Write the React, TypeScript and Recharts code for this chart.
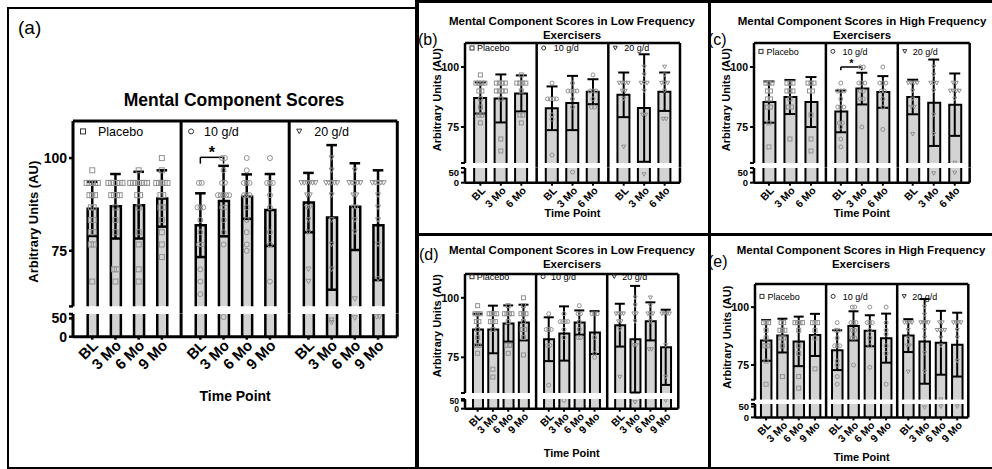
import React from 'react';
import {
  ComposedChart,
  Bar,
  Scatter,
  ErrorBar,
  XAxis,
  YAxis,
  ReferenceLine,
  ReferenceDot,
} from 'recharts';

const FONT = '"Liberation Sans", Arial, Helvetica, sans-serif';

type Pair = [number, number]; // [score, how many participants share it]

const groupNames = ['Placebo', '10 g/d', '20 g/d'];
const groupSymbols = ['square', 'circle', 'triangle'];
const timePoints4 = ['BL', '3 Mo', '6 Mo', '9 Mo'];
const timePoints3 = ['BL', '3 Mo', '6 Mo'];

// (a) all participants
const aMeans = [
  [86.3, 87.0, 87.3, 89.1],
  [81.9, 88.4, 89.6, 86.0],
  [88.0, 84.0, 86.9, 81.9],
];
const aSD = [
  [7.3, 8.7, 9.0, 7.6],
  [8.6, 9.5, 6.0, 9.7],
  [8.0, 19.5, 11.7, 14.8],
];
const aPoints: Pair[][][] = [
  [
    [[96.7, 1], [93.3, 5], [90, 3], [86.7, 2], [83.3, 2], [80, 2], [76.7, 2], [66.7, 1]],
    [[93.3, 6], [90, 4], [86.7, 1], [83.3, 1], [80, 1], [70, 2], [66.7, 1]],
    [[96.7, 1], [93.3, 7], [90, 2], [86.7, 1], [80, 1], [76.7, 1], [70, 1], [66.7, 1]],
    [[100, 1], [96.7, 1], [93.3, 5], [90, 2], [86.7, 2], [83.3, 1], [80, 1], [76.7, 1], [73.3, 1]],
  ],
  [
    [[93.3, 2], [86.7, 3], [83.3, 1], [80, 1], [76.7, 2], [70, 1], [66.7, 1], [63.3, 1]],
    [[100, 2], [96.7, 1], [93.3, 2], [90, 5], [86.7, 2], [83.3, 1], [80, 1], [76.7, 1], [54, 1]],
    [[100, 1], [96.7, 1], [93.3, 3], [90, 3], [86.7, 1], [83.3, 1], [80, 1], [76.7, 1], [75, 1]],
    [[100, 1], [93.3, 3], [90, 1], [86.7, 1], [80, 1], [76.7, 1], [66.7, 1]],
  ],
  [
    [[93.3, 6], [90, 2], [86.7, 2], [83.3, 1], [80, 1], [70, 1], [66.7, 1]],
    [[100, 1], [96.7, 1], [93.3, 5], [90, 1], [83.3, 1], [76.7, 1], [70, 1], [45, 1], [38, 1]],
    [[96.7, 1], [93.3, 5], [90, 2], [86.7, 2], [83.3, 1], [80, 1], [62, 1], [51, 1]],
    [[93.3, 5], [90, 1], [86.7, 1], [83.3, 1], [76.7, 1], [67.4, 1], [54, 2]],
  ],
];

// (b) low frequency exercisers
const bMeans = [
  [87.1, 86.9, 89.0],
  [82.8, 85.0, 89.7],
  [88.4, 82.9, 89.7],
];
const bSD = [
  [6.5, 10.0, 7.5],
  [9.1, 11.3, 5.2],
  [9.3, 22.4, 8.0],
];
const bPoints: Pair[][][] = [
  [
    [[96.7, 1], [93.3, 4], [90, 2], [86.7, 1], [83.3, 1], [80, 2], [76.7, 1]],
    [[93.3, 4], [90, 4], [86.7, 1], [70, 1], [65, 1]],
    [[96.7, 1], [93.3, 4], [90, 1], [80, 2], [76.7, 1]],
  ],
  [
    [[93.3, 1], [86.7, 4], [80, 1], [78.3, 1], [63.3, 1]],
    [[93.3, 1], [90, 4], [86.7, 1], [83.3, 1], [52, 1]],
    [[96.7, 1], [90, 3], [86.7, 1], [83.3, 2]],
  ],
  [
    [[93.3, 4], [90, 2], [86.7, 1], [66.7, 1]],
    [[100, 1], [96.7, 1], [93.3, 3], [90, 1], [80, 2], [40, 1]],
    [[100, 1], [96.7, 1], [93.3, 3], [90, 1], [78.3, 2]],
  ],
];

// (c) high frequency exercisers
const cMeans = [
  [85.4, 87.5, 85.4],
  [81.5, 91.0, 89.6],
  [87.5, 85.1, 84.3],
];
const cSD = [
  [8.6, 7.1, 10.4],
  [8.7, 6.6, 6.6],
  [7.2, 18.0, 13.0],
];
const cPoints: Pair[][][] = [
  [
    [[93.3, 3], [90, 2], [86.7, 2], [83.3, 2], [76.7, 1], [66.7, 1]],
    [[93.3, 3], [90, 3], [86.7, 1], [83.3, 2], [70, 1]],
    [[93.3, 3], [90, 2], [80, 1], [70, 1], [65, 1]],
  ],
  [
    [[93.3, 1], [90, 3], [86.7, 1], [83.3, 3], [76.7, 2], [75, 1], [70, 1], [66.7, 1]],
    [[100, 2], [93.3, 3], [90, 2], [86.7, 2], [75, 1]],
    [[100, 1], [93.3, 3], [90, 2], [86.7, 1], [83.3, 1], [74, 1]],
  ],
  [
    [[93.3, 4], [90, 1], [86.7, 1], [83.3, 2], [72, 1]],
    [[100, 1], [96.7, 1], [93.3, 3], [90, 1], [80, 1], [72, 1], [45, 1]],
    [[93.3, 2], [90, 4], [86.7, 1], [60, 1], [48, 1]],
  ],
];

// (d) low frequency exercisers, 9 months
const dMeans = [
  [86.7, 86.7, 89.2, 89.6],
  [82.6, 85.0, 89.6, 85.4],
  [88.5, 82.6, 90.1, 79.2],
];
const dSD = [
  [6.6, 10.0, 7.6, 7.5],
  [9.2, 11.4, 5.1, 9.0],
  [9.0, 22.4, 8.0, 15.8],
];
const dPoints: Pair[][][] = [
  [
    [[96.7, 1], [93.3, 3], [90, 2], [86.7, 1], [83.3, 1], [80, 2], [76.7, 1]],
    [[93.3, 4], [90, 3], [86.7, 1], [70, 1], [66.7, 1]],
    [[96.7, 1], [93.3, 4], [90, 1], [80, 2], [76.7, 1]],
    [[100, 1], [96.7, 1], [93.3, 3], [90, 1], [86.7, 2], [83.3, 1], [76, 1]],
  ],
  [
    [[93.3, 1], [86.7, 3], [80, 2], [63.3, 1]],
    [[93.3, 1], [90, 4], [86.7, 1], [83.3, 1], [52, 1]],
    [[96.7, 1], [93.3, 2], [90, 1], [86.7, 1], [83.3, 2]],
    [[93.3, 3], [83.3, 1], [76.7, 1], [75, 1]],
  ],
  [
    [[93.3, 4], [90, 2], [86.7, 1], [66.7, 1]],
    [[100, 1], [96.7, 1], [93.3, 2], [90, 1], [80, 2], [40, 1]],
    [[100, 1], [96.7, 1], [93.3, 3], [90, 1], [78.3, 2]],
    [[93.3, 4], [80, 1], [66.7, 1], [50, 1]],
  ],
];

// (e) high frequency exercisers, 9 months
const eMeans = [
  [85.6, 87.7, 85.2, 88.0],
  [81.4, 91.9, 89.8, 86.6],
  [87.7, 85.2, 84.6, 83.8],
];
const eSD = [
  [8.8, 7.3, 10.7, 9.1],
  [8.6, 6.3, 6.7, 10.6],
  [7.1, 18.3, 13.8, 13.8],
];
const ePoints: Pair[][][] = [
  [
    [[93.3, 3], [90, 1], [86.7, 1], [83.3, 2], [76.7, 1], [66.7, 1]],
    [[93.3, 2], [90, 3], [86.7, 2], [83.3, 1], [70, 1]],
    [[93.3, 4], [90, 1], [83.3, 1], [80, 1], [70, 1], [65, 1]],
    [[93.3, 3], [90, 1], [86.7, 1], [73.3, 1]],
  ],
  [
    [[93.3, 1], [90, 2], [86.7, 1], [83.3, 3], [76.7, 1], [75, 1], [70, 1], [66.7, 1]],
    [[100, 2], [93.3, 3], [90, 2], [86.7, 2], [75, 1]],
    [[100, 1], [93.3, 3], [90, 1], [86.7, 1], [83.3, 1], [74, 1]],
    [[100, 1], [93.3, 1], [90, 1], [88.3, 1], [83.3, 1], [80, 1], [66.7, 1]],
  ],
  [
    [[93.3, 4], [90, 1], [86.7, 1], [83.3, 2], [72, 1]],
    [[100, 1], [96.7, 1], [93.3, 4], [90, 1], [86.7, 1], [80, 1], [72, 1], [45, 1]],
    [[93.3, 2], [90, 4], [86.7, 1], [83.3, 1], [60, 1], [50, 1]],
    [[93.3, 4], [90, 1], [86.7, 1], [76.7, 1], [50, 1]],
  ],
];

// significance brackets: group, from/to time index, bracket level, leg end
const aSig = [{ group: 1, from: 0, to: 1, y: 100.2, leg: 98.5 }];
const cSig = [{ group: 1, from: 0, to: 1, y: 100, leg: 98.6 }];

type Sig = { group: number; from: number; to: number; y: number; leg: number };

function Sym({ kind, cx, cy, s, stroke }: { kind: string; cx: number; cy: number; s: number; stroke: string }) {
  if (kind === 'square') {
    return <rect x={cx - s / 2} y={cy - s / 2} width={s} height={s} fill="none" stroke={stroke} strokeWidth={1} />;
  }
  if (kind === 'circle') {
    return <circle cx={cx} cy={cy} r={s / 2} fill="none" stroke={stroke} strokeWidth={1} />;
  }
  const h = s * 0.9;
  return (
    <path
      d={`M${cx - s / 2},${cy - h / 2}H${cx + s / 2}L${cx},${cy + h / 2}Z`}
      fill="none"
      stroke={stroke}
      strokeWidth={1}
    />
  );
}

interface PanelProps {
  means: number[][];
  sds: number[][];
  points: Pair[][][];
  labels: string[];
  axisX: number;
  right: number;
  top: number;
  upperBottom: number;
  lowerTop: number;
  base: number;
  lowerMax: number;
  G: number;
  barSize: number;
  sw: number;
  cap: number;
  dotGap: number;
  sym: number;
  yw: number;
  yTickFont: number;
  lowTickFont?: number;
  yLabelFont: number;
  yLabelX: number;
  yLabelY: number;
  xTickFont: number;
  xh: number;
  timeY: number;
  timeFont: number;
  legendFont: number;
  legendSym: number;
  legendText: number[];
  legendY: number;
  sig?: Sig[];
  starFont?: number;
  starDy?: number;
}

function Panel(p: PanelProps) {
  const n = p.labels.length;
  const plotW = p.right - p.axisX;
  const upperH = p.upperBottom - p.top;
  const lowerH = p.base - p.lowerTop;
  const gap = p.lowerTop - p.upperBottom;
  const xMax = 3 * p.G;
  const unitPx = plotW / xMax;
  const xPos = (g: number, t: number) => g * p.G + (p.G - n + 1) / 2 + t;

  const bars: { x: number; mean: number; sd: number }[] = [];
  p.means.forEach((row, g) =>
    row.forEach((m, t) => bars.push({ x: xPos(g, t), mean: m, sd: p.sds[g][t] }))
  );
  const barXs = bars.map((b) => b.x);

  const pts = [0, 1, 2].map((g) => {
    const list: { x: number; y: number }[] = [];
    p.points[g].forEach((pairs, t) =>
      pairs.forEach(([v, c]) => {
        for (let k = 0; k < c; k++) {
          list.push({ x: xPos(g, t) + ((k - (c - 1) / 2) * p.dotGap) / unitPx, y: v });
        }
      })
    );
    return list;
  });
  const upperPts = pts.map((l) => l.filter((d) => d.y >= 60));
  const lowerPts = pts.map((l) => l.filter((d) => d.y < 60));
  const gapValue = 60 - (gap * 50) / upperH;
  const frameXs = [1, 2, 3].map((k) => k * p.G);
  const chartW = p.yw + plotW + 4;

  const barShape = (props: any) => {
    const { x, y, width, height } = props;
    if (!width || height == null) return <g />;
    return (
      <g>
        <rect x={x} y={y} width={width} height={height} fill="#d3d3d3" />
        <path
          d={`M${x},${y + height}V${y}H${x + width}V${y + height}`}
          fill="none"
          stroke="#000"
          strokeWidth={p.sw}
        />
      </g>
    );
  };

  const xTick = (props: any) => {
    const { x, y, payload } = props;
    const i = barXs.findIndex((v) => Math.abs(v - payload.value) < 1e-6);
    const label = i >= 0 ? p.labels[i % n] : '';
    const ax = x + 3;
    const ay = y + 1;
    return (
      <text
        x={ax}
        y={ay}
        dy={p.xTickFont * 0.35}
        transform={`rotate(-45, ${ax}, ${ay})`}
        textAnchor="end"
        fontSize={p.xTickFont}
        fontWeight="bold"
        fontFamily={FONT}
        fill="#000"
      >
        {label}
      </text>
    );
  };

  const yTickStyle = { fontSize: p.yTickFont, fontWeight: 'bold', fill: '#000', fontFamily: FONT };
  const lowTickStyle = { ...yTickStyle, fontSize: p.lowTickFont || p.yTickFont };
  const axisStroke = { stroke: '#000', strokeWidth: p.sw + 0.5 };
  const tickStroke = { stroke: '#000', strokeWidth: p.sw };

  return (
    <>
      <div style={{ position: 'absolute', left: p.axisX - p.yw, top: p.top - 4 }}>
        <ComposedChart
          width={chartW}
          height={4 + upperH + gap}
          data={bars}
          margin={{ top: 4, right: 4, bottom: gap, left: 0 }}
        >
          <XAxis dataKey="x" type="number" domain={[0, xMax]} ticks={barXs} interval={0} hide />
          <XAxis xAxisId="pts" dataKey="x" type="number" domain={[0, xMax]} hide />
          <YAxis
            type="number"
            domain={[60, 110]}
            allowDataOverflow
            ticks={[60, 75, 100]}
            interval={0}
            width={p.yw}
            tickSize={4}
            tickMargin={2}
            tick={yTickStyle}
            tickFormatter={(v: number) => (v === 60 ? '' : String(v))}
            axisLine={axisStroke}
            tickLine={tickStroke}
            label={{
              value: 'Arbitrary Units (AU)',
              angle: -90,
              position: 'center',
              dx: p.yLabelX + p.yw / 2,
              dy: p.yLabelY - (p.top + upperH / 2),
              fontSize: p.yLabelFont,
              fontWeight: 'bold',
              fill: '#000',
              fontFamily: FONT,
            }}
          />
          <Bar dataKey="mean" barSize={p.barSize} shape={barShape} isAnimationActive={false} />
          {upperPts.map((list, g) => (
            <Scatter
              key={'up' + g}
              xAxisId="pts"
              data={list}
              dataKey="y"
              isAnimationActive={false}
              shape={(sp: any) => <Sym kind={groupSymbols[g]} cx={sp.cx} cy={sp.cy} s={p.sym} stroke="#909090" />}
            />
          ))}
          <Scatter xAxisId="pts" data={bars} dataKey="mean" isAnimationActive={false} shape={() => <g />}>
            <ErrorBar dataKey="sd" direction="y" width={p.cap} stroke="#000" strokeWidth={p.sw} />
          </Scatter>
          <ReferenceLine y={110} stroke="#000" strokeWidth={p.sw + 0.5} ifOverflow="visible" />
          {frameXs.map((fx) => (
            <ReferenceLine
              key={'f' + fx}
              segment={[
                { x: fx, y: 110 },
                { x: fx, y: gapValue },
              ]}
              stroke="#000"
              strokeWidth={p.sw + 0.5}
              ifOverflow="visible"
            />
          ))}
          {[0, 1, 2].map((g) => (
            <ReferenceDot
              key={'lg' + g}
              x={g * p.G}
              y={110}
              ifOverflow="visible"
              shape={(dp: any) => (
                <g>
                  <Sym
                    kind={groupSymbols[g]}
                    cx={dp.cx + p.legendSym}
                    cy={dp.cy + p.legendY}
                    s={p.sym}
                    stroke="#333"
                  />
                  <text
                    x={dp.cx + p.legendText[g]}
                    y={dp.cy + p.legendY}
                    dy={p.legendFont * 0.35}
                    fontSize={p.legendFont}
                    fontFamily={FONT}
                    fill="#000"
                  >
                    {groupNames[g]}
                  </text>
                </g>
              )}
            />
          ))}
          {(p.sig || []).map((s, i) => {
            const x1 = xPos(s.group, s.from);
            const x2 = xPos(s.group, s.to);
            return (
              <React.Fragment key={'sig' + i}>
                <ReferenceLine segment={[{ x: x1, y: s.y }, { x: x2, y: s.y }]} stroke="#000" strokeWidth={1.5} />
                <ReferenceLine segment={[{ x: x1, y: s.y }, { x: x1, y: s.leg }]} stroke="#000" strokeWidth={1.5} />
                <ReferenceLine segment={[{ x: x2, y: s.y }, { x: x2, y: s.leg }]} stroke="#000" strokeWidth={1.5} />
                <ReferenceDot
                  x={(x1 + x2) / 2}
                  y={s.y}
                  ifOverflow="visible"
                  shape={(dp: any) => (
                    <text
                      x={dp.cx}
                      y={dp.cy - (p.starDy || 6)}
                      dy={(p.starFont || 12) * 0.55}
                      textAnchor="middle"
                      fontSize={p.starFont || 12}
                      fontWeight="bold"
                      fontFamily={FONT}
                      fill="#000"
                    >
                      *
                    </text>
                  )}
                />
              </React.Fragment>
            );
          })}
        </ComposedChart>
      </div>
      <div style={{ position: 'absolute', left: p.axisX - p.yw, top: p.lowerTop - 4 }}>
        <ComposedChart
          width={chartW}
          height={4 + lowerH + p.xh}
          data={bars}
          margin={{ top: 4, right: 4, bottom: 0, left: 0 }}
        >
          <XAxis
            dataKey="x"
            type="number"
            domain={[0, xMax]}
            ticks={barXs}
            interval={0}
            height={p.xh}
            tickSize={3}
            tickMargin={2}
            tick={xTick}
            axisLine={axisStroke}
            tickLine={tickStroke}
            label={{
              value: 'Time Point',
              position: 'insideBottom',
              offset: p.xh - p.timeY - 0.36 * p.timeFont,
              fontSize: p.timeFont,
              fontWeight: 'bold',
              fill: '#000',
              fontFamily: FONT,
            }}
          />
          <XAxis xAxisId="pts" dataKey="x" type="number" domain={[0, xMax]} hide />
          <YAxis
            type="number"
            domain={[0, p.lowerMax]}
            allowDataOverflow
            ticks={[0, 50, p.lowerMax]}
            interval={0}
            width={p.yw}
            tickSize={4}
            tickMargin={2}
            tick={lowTickStyle}
            tickFormatter={(v: number) => (v === p.lowerMax ? '' : String(v))}
            axisLine={axisStroke}
            tickLine={tickStroke}
          />
          <Bar dataKey="mean" barSize={p.barSize} shape={barShape} isAnimationActive={false} />
          {lowerPts.map((list, g) => (
            <Scatter
              key={'lo' + g}
              xAxisId="pts"
              data={list}
              dataKey="y"
              isAnimationActive={false}
              shape={(sp: any) => <Sym kind={groupSymbols[g]} cx={sp.cx} cy={sp.cy} s={p.sym} stroke="#909090" />}
            />
          ))}
          {frameXs.map((fx) => (
            <ReferenceLine key={'lf' + fx} x={fx} stroke="#000" strokeWidth={p.sw + 0.5} ifOverflow="visible" />
          ))}
        </ComposedChart>
      </div>
    </>
  );
}

function Title({ cx, cy, lines, fs, lh }: { cx: number; cy: number; lines: string[]; fs: number; lh: number }) {
  return (
    <div
      style={{
        position: 'absolute',
        left: cx - 200,
        width: 400,
        top: cy - lh / 2,
        textAlign: 'center',
        fontSize: fs,
        lineHeight: lh + 'px',
        fontWeight: 'bold',
        fontFamily: FONT,
        whiteSpace: 'nowrap',
      }}
    >
      {lines.map((l) => (
        <div key={l}>{l}</div>
      ))}
    </div>
  );
}

function Letter({ x, cy, text, fs }: { x: number; cy: number; text: string; fs: number }) {
  return (
    <div
      style={{
        position: 'absolute',
        left: x,
        top: cy - fs / 2,
        fontSize: fs,
        lineHeight: fs + 'px',
        fontFamily: FONT,
      }}
    >
      {text}
    </div>
  );
}

const line = (left: number, top: number, width: number, height: number) => (
  <div style={{ position: 'absolute', left, top, width, height, background: '#000' }} />
);

const small = {
  sw: 2,
  cap: 5.5,
  dotGap: 3,
  sym: 4,
  yw: 40,
  yTickFont: 10.5,
  lowTickFont: 9.5,
  yLabelFont: 11,
  xTickFont: 10.5,
  timeFont: 11,
  legendFont: 9,
  legendSym: 7,
  starFont: 11,
  starDy: 6,
};

export default function App() {
  const lowTitle = ['Mental Component Scores in Low Frequency', 'Exercisers'];
  const highTitle = ['Mental Component Scores in High Frequency', 'Exercisers'];
  return (
    <div
      style={{
        position: 'absolute',
        left: 0,
        top: 0,
        width: 992,
        height: 469,
        background: '#fff',
        overflow: 'hidden',
        fontFamily: FONT,
      }}
    >
      {line(7, 7, 410, 2)}
      {line(7, 7, 2, 462)}
      {line(415, 0, 4, 469)}
      {line(415, 0, 577, 2.5)}
      {line(415, 233, 577, 3)}
      {line(707.5, 0, 3, 469)}
      {line(7, 467, 985, 2)}

      <Letter x={18} cy={27} text="(a)" fs={19} />
      <Title cx={234} cy={100} lines={['Mental Component Scores']} fs={17.5} lh={20} />
      <Panel
        means={aMeans}
        sds={aSD}
        points={aPoints}
        labels={timePoints4}
        axisX={72.7}
        right={397}
        top={121.3}
        upperBottom={306.7}
        lowerTop={314}
        base={336.7}
        lowerMax={62}
        G={4.66}
        barSize={10}
        sw={2.5}
        cap={5.3}
        dotGap={2.8}
        sym={5}
        yw={50}
        yTickFont={14}
        yLabelFont={13}
        yLabelX={-40}
        yLabelY={222}
        xTickFont={15}
        xh={75}
        timeY={59.3}
        timeFont={14}
        legendFont={12.5}
        legendSym={10}
        legendText={[25, 23, 25]}
        legendY={10.4}
        sig={aSig}
        starFont={16}
        starDy={8}
      />

      <Letter x={418} cy={40} text="(b)" fs={16} />
      <Title cx={572} cy={20.7} lines={lowTitle} fs={11.5} lh={14.3} />
      <Panel
        {...small}
        means={bMeans}
        sds={bSD}
        points={bPoints}
        labels={timePoints3}
        axisX={465}
        right={680}
        top={43.3}
        upperBottom={163.3}
        lowerTop={168}
        base={182.7}
        lowerMax={72}
        G={3.5}
        barSize={12}
        yLabelX={-28.3}
        yLabelY={100}
        xh={40}
        timeY={30.6}
        legendText={[12, 17, 16]}
        legendY={5}
      />

      <Letter x={708} cy={40} text="(c)" fs={16} />
      <Title cx={862} cy={20.7} lines={highTitle} fs={11.5} lh={14.3} />
      <Panel
        {...small}
        means={cMeans}
        sds={cSD}
        points={cPoints}
        labels={timePoints3}
        axisX={754.3}
        right={970}
        top={43.3}
        upperBottom={163.3}
        lowerTop={168}
        base={182.7}
        lowerMax={72}
        G={3.42}
        barSize={12}
        yLabelX={-27.6}
        yLabelY={100}
        xh={40}
        timeY={30.6}
        legendText={[12.4, 16.7, 15]}
        legendY={8.4}
        sig={cSig}
      />

      <Letter x={419} cy={255} text="(d)" fs={16} />
      <Title cx={572} cy={250} lines={lowTitle} fs={11.5} lh={14.3} />
      <Panel
        {...small}
        means={dMeans}
        sds={dSD}
        points={dPoints}
        labels={timePoints4}
        axisX={465}
        right={678.3}
        top={274.3}
        upperBottom={393.3}
        lowerTop={399.3}
        base={409}
        lowerMax={60}
        G={4.65}
        barSize={10}
        cap={5}
        dotGap={2.5}
        lowTickFont={8.5}
        yLabelX={-28.3}
        yLabelY={326}
        xh={52}
        timeY={44.3}
        legendText={[11.7, 15, 15]}
        legendY={2.7}
      />

      <Letter x={708} cy={262} text="(e)" fs={16} />
      <Title cx={861} cy={250} lines={highTitle} fs={11.5} lh={14.3} />
      <Panel
        {...small}
        means={eMeans}
        sds={eSD}
        points={ePoints}
        labels={timePoints4}
        axisX={755}
        right={968.3}
        top={284.3}
        upperBottom={400}
        lowerTop={404.3}
        base={417.7}
        lowerMax={62}
        G={4.36}
        barSize={10.5}
        cap={5}
        dotGap={2.5}
        yLabelX={-28.3}
        yLabelY={337.5}
        xh={48}
        timeY={40}
        legendText={[12.4, 16.7, 15]}
        legendY={12.4}
      />
    </div>
  );
}
